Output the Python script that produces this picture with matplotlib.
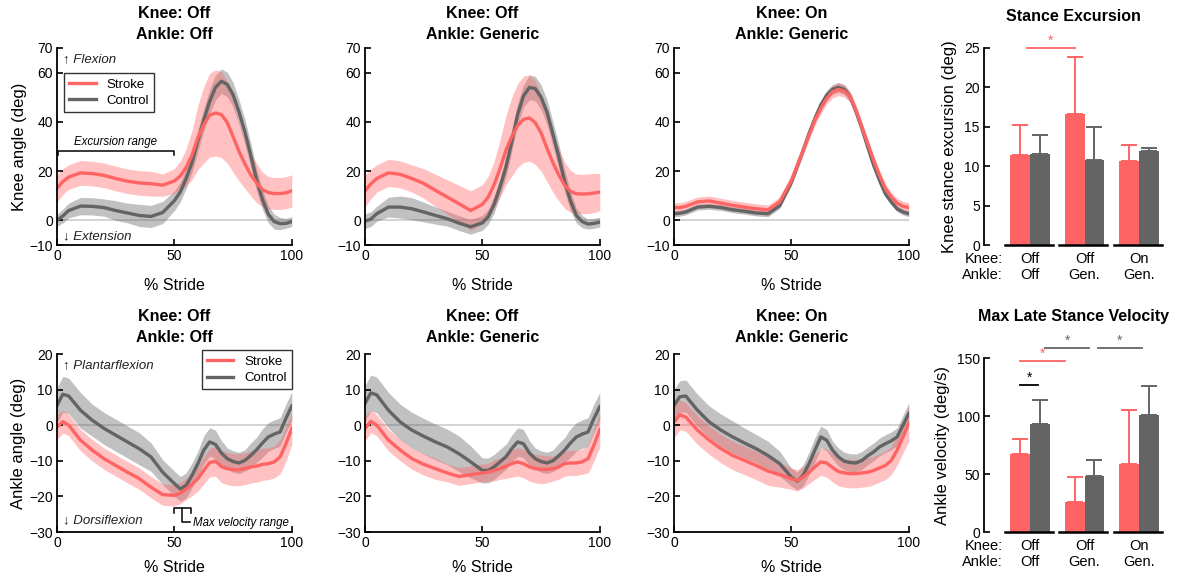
import numpy as np
import matplotlib
matplotlib.use("Agg")
import matplotlib.pyplot as plt

plt.rcParams['font.family'] = ['Liberation Sans', 'DejaVu Sans']

# % stride sample points
stride = [0, 2.5, 5, 10, 15, 20, 25, 30, 35, 40, 45,
          50, 52.5, 55, 57.5, 60, 62.5, 65, 67.5, 70, 72.5, 75, 77.5, 80,
          82.5, 85, 87.5, 90, 92.5, 95, 97.5, 100]

# knee angle (deg): [Knee Off/Ankle Off, Knee Off/Ankle Generic, Knee On/Ankle Generic]
knee_stroke = [
    [13, 15.8, 17.6, 19.3, 19, 18.3, 17, 15.9, 15.2, 14.9, 14.3,
     16, 18, 21.5, 26.5, 33.6, 38.8, 42.7, 43.6, 43, 39.8, 34, 28, 23, 18.5, 15.2, 12.5, 11.3, 10.9, 10.9, 11.2, 12],
    [12, 14.8, 17, 19.3, 18.7, 17, 15, 12.2, 9.5, 6.8, 4,
     6.5, 9.5, 14.5, 21, 28.4, 34, 38.5, 41, 41.6, 39.7, 35.5, 29.3, 23.5, 18.5, 14.3, 11.8, 10.8, 10.7, 10.8, 11.1, 11.5],
    [5.2, 5.2, 5.7, 7.5, 7.9, 7, 6.1, 5.4, 4.7, 4.3, 7.5,
     16.3, 22.4, 28.5, 34.6, 40.7, 45.4, 49.5, 52.2, 53.2, 52.5, 50.2, 44.7, 38, 31.2, 24.4, 18.3, 12.9, 9.5, 7, 5.7, 5.2],
]
knee_stroke_sd = [
    [5.5, 5.2, 5, 5, 5, 5, 5, 5, 5, 5, 4.5,
     5, 6, 7.5, 10, 13, 15.5, 17, 17.5, 17.5, 16.5, 14.5, 12, 10, 8.5, 8, 7, 6.5, 6.5, 6.5, 6.5, 6.5],
    [6.5, 6, 5.5, 5.5, 5.5, 5.5, 6, 6.5, 7, 7.5, 8,
     8, 8.5, 9.5, 11.5, 14, 16, 17, 17.5, 17.5, 17, 15.5, 13.5, 12, 10.5, 9.5, 8.5, 8, 8, 8, 8, 7.5],
    [2, 2, 2, 2, 2, 2, 2, 2, 2, 2, 2,
     2, 2, 2, 2, 2, 2.2, 2.3, 2.5, 2.5, 2.5, 2.3, 2.2, 2, 2, 2, 2, 2, 2, 2, 2, 2],
]
knee_control = [
    [0, 1.8, 4, 5.8, 5.7, 5.2, 4, 3, 2, 1.6, 3.2,
     8, 11.5, 17, 23.5, 32.3, 40.7, 48.3, 54, 56.5, 55.2, 51, 44, 36, 26.5, 16.5, 8.5, 2.5, -0.5, -1.3, -1.2, -0.5],
    [-0.3, 0.5, 2.7, 5.4, 5.4, 4.7, 3.4, 2, 0.7, -1.1, -2.6,
     -1, 1.5, 6.5, 13.5, 21.5, 32, 43, 50.5, 54, 53.5, 50, 44, 35.2, 26, 16, 8, 2, -0.5, -1.5, -1.2, -0.7],
    [2.7, 2.9, 3.4, 5.4, 5.7, 5.2, 4.3, 3.7, 3, 2.7, 6,
     15.6, 22, 28.5, 35.3, 41.4, 46.8, 50.8, 53.2, 54, 53.2, 50.2, 44.1, 37.3, 29.8, 22.4, 16.3, 10.8, 7.5, 4.7, 3.4, 2.7],
]
knee_control_sd = [
    [2.5, 2.8, 3, 3.5, 3.5, 3.5, 4, 4, 4.5, 4.5, 4.5,
     4, 4, 4, 4, 4.5, 4.5, 5, 5, 5, 5, 5, 5, 5, 5, 4.5, 4, 3.5, 3, 2.5, 2, 2],
    [3, 3, 3, 4, 4.5, 4.5, 4, 3.5, 3, 3, 3,
     3, 3, 3.5, 3.5, 4, 4, 4.5, 4.5, 5, 5, 5, 5, 5, 5, 4.5, 4, 3, 2.5, 2, 2, 2],
    [1.2, 1.2, 1.2, 1.2, 1.2, 1.2, 1.2, 1.2, 1.2, 1.2, 1.2,
     1.5, 1.5, 1.5, 1.5, 1.5, 1.8, 2, 2, 2, 2, 1.8, 1.5, 1.5, 1.5, 1.5, 1.5, 1.2, 1.2, 1.2, 1.2, 1.2],
]

# ankle angle (deg)
ankle_stroke = [
    [-0.5, 1.0, 0, -4.2, -7, -9.4, -11.3, -13.2, -15, -17.4, -19.5,
     -19.7, -19.1, -17.9, -16.6, -15, -12.7, -10.5, -10.1, -11.6, -12.2, -12.5, -12.5, -12.2, -11.7, -11.5, -11, -10.8, -10.3, -8.9, -5.2, -0.9],
    [-0.9, 1.1, 0, -4.2, -7, -9.4, -11, -12.2, -13.4, -14.4, -13.9,
     -13.4, -13.2, -12.7, -12.2, -11.5, -10.8, -10.3, -10.8, -11.7, -12.2, -12.4, -12.4, -12.2, -11.7, -10.8, -10.6, -10.6, -10.3, -9.4, -5.6, -1.2],
    [0.9, 2.9, 2.3, -1.4, -4.2, -6.6, -8.5, -9.9, -11.3, -12.9, -13.9,
     -15, -15.5, -14.6, -13.2, -11.7, -10.3, -10.6, -11.9, -13, -13.4, -13.6, -13.6, -13.4, -13.2, -12.7, -12, -11.3, -9.9, -7, -3.3, 0.5],
]
ankle_stroke_sd = [
    [3.5, 3.2, 3, 3, 3, 3, 3, 3, 3, 3, 3,
     3, 3, 3, 3.2, 3.5, 3.8, 4, 4.2, 4.5, 4.5, 4.5, 4.5, 4.5, 4.5, 4.5, 4.5, 4.5, 4.5, 4.8, 5, 4.5],
    [3.5, 3.2, 3, 3, 3, 3, 3, 3, 2.5, 2.5, 2.5,
     2.5, 2.5, 3, 3, 3.5, 3.8, 4, 4, 4, 4, 4, 3.8, 3.5, 3.5, 3.5, 3.5, 3.5, 3.5, 4, 4.5, 5],
    [4.5, 4.2, 4, 4, 4, 4, 4, 4, 4, 4, 3.5,
     3, 3, 3, 3.2, 3.5, 3.8, 4, 4, 4, 4, 4, 4, 4, 4, 4, 4, 4, 4, 4.2, 4.5, 5],
]
ankle_control = [
    [5.6, 8.7, 8.2, 4.2, 1.4, -0.9, -2.8, -4.7, -6.6, -8.9, -13.2,
     -16.4, -17.9, -16.9, -14.1, -10.8, -7, -4.7, -5.4, -7.8, -9.4, -10.2, -10.6, -9.9, -8.5, -6.9, -5, -3.3, -2.5, -1.9, 1.9, 5.4],
    [6.1, 9.1, 8.5, 4.2, 0.9, -1.4, -3.1, -4.7, -6.1, -8, -10.3,
     -12.7, -12.7, -11.7, -10.3, -8.9, -6.6, -4.7, -5.2, -7.8, -9.4, -10.2, -10.6, -10, -8.6, -7, -5, -3.3, -2.5, -1.9, 1.9, 5.2],
    [5.6, 8, 8.2, 4.2, 0.9, -1.4, -3.3, -5, -6.6, -8.5, -10.8,
     -14.6, -15.7, -14.1, -10.8, -7, -3.3, -4.2, -7, -8.9, -10.1, -10.5, -10.6, -9.9, -8.6, -7.5, -6.1, -5.2, -4.4, -3.3, 0, 3.3],
]
ankle_control_sd = [
    [5, 5, 5, 5, 4.5, 4.5, 4.5, 4.5, 4.5, 4, 3.5,
     3.5, 3.5, 3.5, 3.5, 3.5, 4, 4, 4, 3.5, 3, 3, 3, 3, 3.5, 3.5, 4, 4, 4, 4, 4, 4],
    [5, 5, 5, 5, 5, 5, 5, 5, 5, 5, 4.5,
     3.5, 3.5, 3.5, 3.5, 3.5, 3.8, 4, 4, 3.5, 3, 3, 3, 3, 3.5, 3.5, 4, 4, 4, 4, 4, 4],
    [4.5, 4.5, 4.5, 4.5, 4.5, 4.5, 4.5, 4.2, 4, 4, 3.5,
     2.5, 2.5, 3, 3.2, 3.5, 3, 3, 2.5, 2.5, 2.5, 2.5, 2.5, 2.5, 2.5, 2.5, 2.5, 2.5, 2.5, 2.5, 2.8, 3],
]

conditions = ["Knee: Off\nAnkle: Off", "Knee: Off\nAnkle: Generic", "Knee: On\nAnkle: Generic"]
group_labels = ["Off\nOff", "Off\nGen.", "On\nGen."]

# bar summaries (mean, upper error)
exc_stroke = [11.4, 16.6, 10.6]
exc_stroke_err = [3.8, 7.3, 2.1]
exc_control = [11.5, 10.8, 11.9]
exc_control_err = [2.4, 4.2, 0.4]

vel_stroke = [67, 26, 59]
vel_stroke_err = [13, 21, 46]
vel_control = [93, 48, 101]
vel_control_err = [21, 14, 25]

red = '#FF6464'
gray = '#646464'

fig = plt.figure(figsize=(11.8, 5.81), dpi=100)

lefts = [0.0483, 0.3093, 0.5712]
w = 0.199
top_rect = (0.5783, 0.3391)
bot_rect = (0.0843, 0.3064)


def style(ax):
    for s in ['top', 'right']:
        ax.spines[s].set_visible(False)
    for s in ['left', 'bottom']:
        ax.spines[s].set_linewidth(1.3)
    ax.tick_params(direction='in', length=4, width=1.2, labelsize=10, pad=3)


def draw_curves(ax, m_s, sd_s, m_c, sd_c, labelpad):
    x = np.array(stride)
    m_s, sd_s, m_c, sd_c = map(np.array, (m_s, sd_s, m_c, sd_c))
    ax.axhline(0, color='#C8C8C8', lw=1.1, zorder=0)
    ax.fill_between(x, m_c - sd_c, m_c + sd_c, color=gray, alpha=0.4, lw=0)
    lc, = ax.plot(x, m_c, color=gray, lw=2.4, solid_joinstyle='round')
    ax.fill_between(x, m_s - sd_s, m_s + sd_s, color=red, alpha=0.4, lw=0)
    ls, = ax.plot(x, m_s, color=red, lw=2.4, solid_joinstyle='round')
    ax.set_xlim(0, 100)
    ax.set_xticks([0, 50, 100])
    ax.set_xlabel('% Stride', fontsize=11.5, labelpad=labelpad)
    return ls, lc


knee_axes = []
ankle_axes = []
for i in range(3):
    ax = fig.add_axes([lefts[i], top_rect[0], w, top_rect[1]])
    style(ax)
    ls, lc = draw_curves(ax, knee_stroke[i], knee_stroke_sd[i], knee_control[i], knee_control_sd[i], 11)
    ax.set_ylim(-10, 70)
    ax.set_yticks([-10, 0, 20, 40, 60, 70])
    ax.set_title(conditions[i], fontsize=11.5, fontweight='bold', pad=6.5, linespacing=1.5)
    knee_axes.append((ax, ls, lc))

    ax = fig.add_axes([lefts[i], bot_rect[0], w, bot_rect[1]])
    style(ax)
    ls, lc = draw_curves(ax, ankle_stroke[i], ankle_stroke_sd[i], ankle_control[i], ankle_control_sd[i], 7)
    ax.set_ylim(-30, 20)
    ax.set_yticks([-30, -20, -10, 0, 10, 20])
    ax.set_title(conditions[i], fontsize=11.5, fontweight='bold', pad=9, linespacing=1.5)
    ankle_axes.append((ax, ls, lc))

# knee annotations
ax, ls, lc = knee_axes[0]
ax.set_ylabel('Knee angle (deg)', fontsize=12, labelpad=2)
leg = ax.legend([ls, lc], ['Stroke', 'Control'], loc='upper left', bbox_to_anchor=(0.03, 0.873),
                fontsize=9.5, frameon=True, fancybox=False, edgecolor='black', handlelength=2.0,
                borderpad=0.4, labelspacing=0.3, borderaxespad=0)
leg.get_frame().set_linewidth(1.0)
ax.text(2.5, 65.5, '\u2191 Flexion', style='italic', fontsize=9.5, va='center', color='#222222')
ax.text(2.5, -6.4, '\u2193 Extension', style='italic', fontsize=9.5, va='center', color='#222222')
ax.plot([0.4, 0.4, 50, 50], [26.6, 28.2, 28.2, 26.6], color='black', lw=1.1, clip_on=False)
ax.text(25, 31.8, 'Excursion range', style='italic', fontsize=8.3, ha='center', va='center')

# ankle annotations
ax, ls, lc = ankle_axes[0]
ax.set_ylabel('Ankle angle (deg)', fontsize=12, labelpad=2)
leg = ax.legend([ls, lc], ['Stroke', 'Control'], loc='upper right', bbox_to_anchor=(1.0, 1.02),
                fontsize=9.5, frameon=True, fancybox=False, edgecolor='black', handlelength=2.0,
                borderpad=0.4, labelspacing=0.3, borderaxespad=0)
leg.get_frame().set_linewidth(1.0)
ax.text(2.5, 16.7, '\u2191 Plantarflexion', style='italic', fontsize=9.5, va='center', color='#222222')
ax.text(2.5, -26.6, '\u2193 Dorsiflexion', style='italic', fontsize=9.5, va='center', color='#222222')
ax.plot([49.7, 49.7, 57, 57], [-24.6, -23.2, -23.2, -24.6], color='black', lw=1.1)
ax.plot([53.3, 53.3, 56.5], [-23.2, -27.2, -27.2], color='black', lw=1.1)
ax.text(58, -27.4, 'Max velocity range', style='italic', fontsize=8.3, va='center')


# bar panels
def bar_panel(rect, s_vals, s_err, c_vals, c_err, ylim, yticks, ylabel, title, title_pad):
    ax = fig.add_axes(rect)
    x = np.arange(1, 4)
    bw = 0.36
    ax.bar(x - bw / 2, s_vals, bw, color=red, zorder=2)
    ax.bar(x + bw / 2, c_vals, bw, color=gray, zorder=2)
    ax.errorbar(x - bw / 2, s_vals, yerr=[np.zeros(3), s_err], fmt='none', ecolor=red,
                elinewidth=1.4, capsize=6, capthick=1.4, zorder=1)
    ax.errorbar(x + bw / 2, c_vals, yerr=[np.zeros(3), c_err], fmt='none', ecolor=gray,
                elinewidth=1.4, capsize=6, capthick=1.4, zorder=1)
    for xi in x:
        ax.plot([xi - 0.46, xi + 0.42], [0, 0], color='black', lw=1.8, zorder=3, clip_on=False)
    ax.set_xlim(0.156, 3.44)
    ax.set_ylim(*ylim)
    ax.set_yticks(yticks)
    for s in ['top', 'right', 'bottom']:
        ax.spines[s].set_visible(False)
    ax.spines['left'].set_linewidth(1.3)
    ax.tick_params(axis='y', direction='in', length=4, width=1.2, labelsize=10, pad=3)
    ax.set_xticks(x)
    ax.set_xticklabels(group_labels, fontsize=10.5, linespacing=1.15)
    ax.tick_params(axis='x', length=0, pad=5)
    ax.annotate('Knee:\nAnkle:', xy=(0.106, 0), xycoords='axes fraction', xytext=(0, -5),
                textcoords='offset points', ha='right', va='top', fontsize=10.5, linespacing=1.15)
    ax.set_ylabel(ylabel, fontsize=12, labelpad=5)
    ax.set_title(title, fontsize=11.5, fontweight='bold', pad=title_pad)
    return ax


ax = bar_panel([0.8339, top_rect[0], 0.1517, top_rect[1]], exc_stroke, exc_stroke_err,
               exc_control, exc_control_err, (0, 25), [0, 5, 10, 15, 20, 25],
               'Knee stance excursion (deg)', 'Stance Excursion', 19.5)
# significance marker
ax.plot([0.95, 1.82], [25, 25], color=red, lw=1.3, clip_on=False)
ax.text(1.38, 25.0, '*', color=red, ha='center', va='bottom', fontsize=10)

ax = bar_panel([0.8339, bot_rect[0], 0.1517, 0.2995], vel_stroke, vel_stroke_err,
               vel_control, vel_control_err, (0, 150), [0, 50, 100, 150],
               'Ankle velocity (deg/s)', 'Max Late Stance Velocity', 26.5)
sig = [
    (0.82, 1.15, 127, 'black'),
    (0.82, 1.64, 147.5, red),
    (1.27, 2.09, 159, gray),
    (2.24, 3.06, 159, gray),
]
for x0, x1, yv, col in sig:
    ax.plot([x0, x1], [yv, yv], color=col, lw=1.3, clip_on=False)
    ax.text((x0 + x1) / 2, yv, '*', color=col, ha='center', va='bottom', fontsize=10)

fig.savefig('out.png', dpi=100)
